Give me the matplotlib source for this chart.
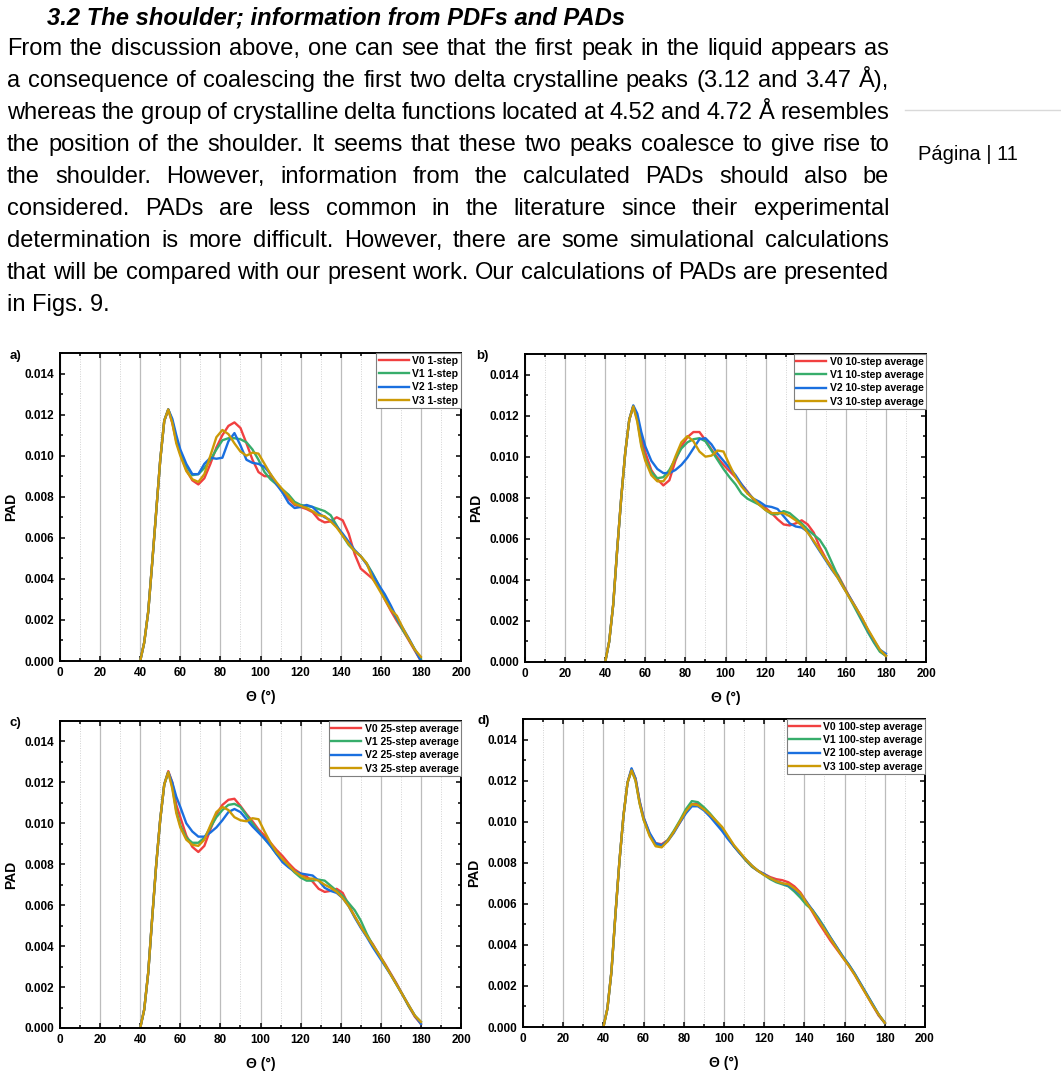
import matplotlib
matplotlib.use('Agg')
from matplotlib import pyplot as plt
from matplotlib.lines import Line2D
from matplotlib.ticker import MultipleLocator, FormatStrFormatter

plt.rcParams['font.family'] = ['Liberation Sans', 'DejaVu Sans']

W, H = 1061, 1079

# angle grid (degrees), same for every curve
THETA = [40, 42, 44, 46, 48, 50, 52, 54, 56, 58] + list(range(60, 181, 3))

# PAD values in units of 1e-3
A_V0 = [0.0, 0.9, 2.4, 4.8, 7.3, 9.8, 11.7, 12.25, 11.6, 10.7,
        10.1, 9.3, 8.8, 8.6, 8.9, 9.6, 10.4, 11.0, 11.45, 11.62,
        11.35, 10.6, 9.8, 9.2, 9.0, 9.0, 8.6, 8.3, 7.9, 7.6,
        7.5, 7.4, 7.25, 6.9, 6.75, 6.8, 7.0, 6.85, 6.2, 5.2,
        4.5, 4.25, 4.0, 3.6, 3.0, 2.45, 1.95, 1.5, 1.0, 0.5,
        0.0]
A_V1 = [0.0, 0.9, 2.4, 4.8, 7.3, 9.8, 11.7, 12.25, 11.7, 10.8,
        10.2, 9.5, 9.05, 9.1, 9.4, 9.8, 10.3, 10.75, 10.85, 10.85,
        10.8, 10.65, 10.3, 9.8, 9.2, 8.85, 8.6, 8.35, 8.1, 7.75,
        7.6, 7.55, 7.5, 7.4, 7.3, 7.1, 6.6, 6.1, 5.65, 5.35,
        5.1, 4.75, 4.25, 3.7, 3.1, 2.6, 2.05, 1.5, 1.05, 0.55,
        0.1]
A_V2 = [0.0, 0.9, 2.4, 4.8, 7.3, 9.8, 11.7, 12.25, 11.8, 11.0,
        10.3, 9.6, 9.1, 9.1, 9.6, 9.9, 9.85, 9.9, 10.7, 11.1,
        10.5, 9.8, 9.65, 9.6, 9.45, 9.1, 8.6, 8.2, 7.7, 7.45,
        7.5, 7.6, 7.5, 7.2, 7.0, 6.85, 6.55, 6.2, 5.8, 5.4,
        5.1, 4.7, 4.2, 3.7, 3.25, 2.7, 2.1, 1.6, 1.1, 0.55,
        0.0]
A_V3 = [0.0, 0.9, 2.4, 4.8, 7.3, 9.8, 11.7, 12.25, 11.6, 10.6,
        10.0, 9.25, 8.85, 8.72, 9.1, 10.0, 10.9, 11.25, 11.05, 10.6,
        10.2, 10.0, 10.15, 10.1, 9.6, 9.1, 8.7, 8.35, 8.0, 7.65,
        7.55, 7.45, 7.3, 7.1, 7.05, 6.8, 6.5, 6.1, 5.7, 5.35,
        5.1, 4.75, 4.0, 3.5, 3.0, 2.5, 2.2, 1.6, 1.05, 0.55,
        0.2]

B_V0 = [0.0, 1.0, 2.8, 5.5, 8.0, 10.2, 11.8, 12.45, 11.9, 10.9,
        10.2, 9.35, 8.9, 8.6, 8.85, 9.8, 10.5, 10.95, 11.2, 11.2,
        10.8, 10.35, 9.95, 9.6, 9.3, 9.0, 8.65, 8.3, 7.9, 7.65,
        7.5, 7.25, 6.95, 6.7, 6.65, 6.75, 6.9, 6.7, 6.3, 5.6,
        5.05, 4.6, 4.25, 3.7, 3.15, 2.65, 2.15, 1.55, 1.0, 0.55,
        0.3]
B_V1 = [0.0, 1.0, 2.8, 5.5, 8.0, 10.2, 11.8, 12.45, 11.8, 10.6,
        9.9, 9.25, 8.95, 9.0, 9.35, 9.9, 10.4, 10.7, 10.85, 10.9,
        10.75, 10.3, 9.85, 9.4, 9.0, 8.65, 8.2, 7.95, 7.8, 7.65,
        7.4, 7.2, 7.2, 7.35, 7.25, 7.0, 6.75, 6.45, 6.2, 5.95,
        5.5, 4.85, 4.2, 3.65, 3.1, 2.55, 2.0, 1.45, 0.95, 0.5,
        0.3]
B_V2 = [0.0, 1.0, 2.8, 5.5, 8.0, 10.2, 11.8, 12.5, 12.1, 11.2,
        10.5, 9.8, 9.4, 9.2, 9.2, 9.35, 9.6, 9.95, 10.4, 10.85,
        10.9, 10.6, 10.15, 9.8, 9.45, 9.1, 8.65, 8.25, 7.95, 7.8,
        7.6, 7.55, 7.45, 7.1, 6.75, 6.6, 6.55, 6.35, 5.85, 5.4,
        4.95, 4.5, 4.1, 3.6, 3.15, 2.65, 2.1, 1.55, 1.05, 0.6,
        0.4]
B_V3 = [0.0, 1.0, 2.8, 5.5, 8.0, 10.2, 11.8, 12.45, 11.7, 10.5,
        9.8, 9.1, 8.8, 8.8, 9.2, 10.0, 10.7, 11.0, 10.75, 10.25,
        10.0, 10.05, 10.3, 10.25, 9.6, 9.0, 8.55, 8.2, 7.95, 7.65,
        7.4, 7.25, 7.25, 7.25, 7.1, 6.9, 6.65, 6.3, 5.9, 5.45,
        5.0, 4.55, 4.1, 3.6, 3.1, 2.65, 2.15, 1.6, 1.1, 0.6,
        0.3]

C_V0 = [0.0, 0.9, 2.7, 5.4, 8.0, 10.2, 11.9, 12.55, 12.0, 10.9,
        10.3, 9.4, 8.85, 8.6, 8.9, 9.7, 10.45, 10.9, 11.15, 11.2,
        10.85, 10.45, 10.1, 9.7, 9.4, 9.05, 8.7, 8.4, 8.05, 7.75,
        7.55, 7.4, 7.15, 6.8, 6.65, 6.7, 6.8, 6.6, 6.0, 5.45,
        4.95, 4.5, 4.1, 3.6, 3.15, 2.65, 2.15, 1.6, 1.05, 0.55,
        0.2]
C_V1 = [0.0, 0.9, 2.7, 5.4, 8.0, 10.2, 11.9, 12.5, 11.8, 10.6,
        9.9, 9.3, 9.05, 9.05, 9.3, 9.8, 10.3, 10.65, 10.9, 10.95,
        10.8, 10.4, 10.0, 9.6, 9.25, 8.9, 8.5, 8.2, 7.9, 7.6,
        7.35, 7.2, 7.2, 7.25, 7.2, 6.95, 6.7, 6.45, 6.1, 5.75,
        5.25, 4.6, 4.05, 3.6, 3.1, 2.6, 2.1, 1.6, 1.05, 0.6,
        0.3]
C_V2 = [0.0, 0.9, 2.7, 5.4, 8.0, 10.2, 11.9, 12.5, 12.0, 11.3,
        10.8, 10.0, 9.6, 9.35, 9.35, 9.55, 9.8, 10.15, 10.55, 10.7,
        10.55, 10.2, 9.85, 9.55, 9.25, 8.9, 8.5, 8.1, 7.85, 7.65,
        7.55, 7.5, 7.45, 7.2, 6.85, 6.7, 6.6, 6.35, 5.95, 5.4,
        4.9, 4.45, 3.95, 3.5, 3.05, 2.6, 2.1, 1.6, 1.1, 0.6,
        0.2]
C_V3 = [0.0, 0.9, 2.7, 5.4, 8.0, 10.2, 11.9, 12.5, 11.7, 10.5,
        9.8, 9.2, 8.95, 8.9, 9.2, 9.9, 10.55, 10.8, 10.65, 10.3,
        10.15, 10.1, 10.25, 10.2, 9.6, 9.05, 8.6, 8.25, 7.95, 7.65,
        7.45, 7.3, 7.3, 7.2, 7.0, 6.85, 6.65, 6.35, 5.95, 5.45,
        4.95, 4.5, 4.05, 3.6, 3.1, 2.6, 2.1, 1.6, 1.1, 0.6,
        0.3]

D_V0 = [0.0, 0.9, 2.7, 5.5, 8.1, 10.3, 11.9, 12.55, 12.1, 11.0,
        10.2, 9.4, 8.95, 8.9, 9.1, 9.5, 9.95, 10.45, 10.85, 10.85,
        10.6, 10.3, 9.95, 9.6, 9.2, 8.8, 8.45, 8.1, 7.8, 7.6,
        7.45, 7.3, 7.2, 7.15, 7.05, 6.85, 6.55, 6.1, 5.6, 5.1,
        4.65, 4.2, 3.8, 3.4, 3.0, 2.55, 2.05, 1.55, 1.05, 0.55,
        0.2]
D_V1 = [0.0, 0.9, 2.7, 5.5, 8.1, 10.3, 11.9, 12.5, 12.0, 10.9,
        10.1, 9.35, 8.85, 8.8, 9.1, 9.55, 10.05, 10.6, 11.0, 10.95,
        10.7, 10.4, 10.05, 9.7, 9.25, 8.8, 8.45, 8.1, 7.8, 7.6,
        7.4, 7.2, 7.05, 6.95, 6.85, 6.6, 6.3, 5.95, 5.7, 5.3,
        4.85, 4.35, 3.9, 3.45, 3.05, 2.6, 2.1, 1.6, 1.1, 0.6,
        0.2]
D_V2 = [0.0, 0.9, 2.7, 5.5, 8.1, 10.3, 11.9, 12.6, 12.1, 11.0,
        10.2, 9.45, 8.95, 8.85, 9.05, 9.45, 9.95, 10.4, 10.75, 10.75,
        10.55, 10.25, 9.9, 9.55, 9.15, 8.8, 8.45, 8.15, 7.85, 7.6,
        7.45, 7.25, 7.1, 7.0, 6.9, 6.7, 6.45, 6.1, 5.7, 5.25,
        4.8, 4.35, 3.9, 3.45, 3.05, 2.6, 2.1, 1.6, 1.1, 0.6,
        0.2]
D_V3 = [0.0, 0.9, 2.7, 5.5, 8.1, 10.3, 11.9, 12.5, 12.0, 10.9,
        10.1, 9.3, 8.8, 8.75, 9.05, 9.5, 10.0, 10.5, 10.85, 10.8,
        10.6, 10.35, 10.05, 9.75, 9.3, 8.85, 8.5, 8.15, 7.85, 7.6,
        7.4, 7.25, 7.1, 7.0, 6.95, 6.75, 6.5, 6.05, 5.65, 5.2,
        4.75, 4.3, 3.85, 3.4, 3.0, 2.55, 2.05, 1.55, 1.05, 0.6,
        0.2]

SCALE = 1e-3
VERSIONS = ['V0', 'V1', 'V2', 'V3']
COLORS = ['#f14040', '#37ad6b', '#1a6fdf', '#cc9a06']
STEPS = ['1-step', '10-step average', '25-step average', '100-step average']
LETTERS = ['a)', 'b)', 'c)', 'd)']

HEADING = '3.2 The shoulder; information from PDFs and PADs'
BODY = [
    'From the discussion above, one can see that the first peak in the liquid appears as',
    'a consequence of coalescing the first two delta crystalline peaks (3.12 and 3.47 \u00c5),',
    'whereas the group of crystalline delta functions located at 4.52 and 4.72 \u00c5 resembles',
    'the position of the shoulder. It seems that these two peaks coalesce to give rise to',
    'the shoulder. However, information from the calculated PADs should also be',
    'considered. PADs are less common in the literature since their experimental',
    'determination is more difficult. However, there are some simulational calculations',
    'that will be compared with our present work. Our calculations of PADs are presented',
    'in Figs. 9.',
]


def fx(x):
    return x / W


def fy(y):
    return 1 - y / H


def text_width(s, **kw):
    t = fig.text(0, 0, s, **kw)
    w = t.get_window_extent(renderer).width
    t.remove()
    return w


fig = plt.figure(figsize=(W / 100, H / 100), dpi=100)
renderer = fig.canvas.get_renderer()

# page text, sized so the first line fills the column like in the page
x_left, x_right = 7, 889
body_size = 10 * (x_right - x_left) / text_width(BODY[0], fontsize=10) * 0.98
head_kw = dict(fontweight='bold', fontstyle='italic')
head_size = 10 * 578 / text_width(HEADING, fontsize=10, **head_kw)

fig.text(fx(47), fy(24), HEADING, fontsize=head_size, va='baseline', **head_kw)

for i, line in enumerate(BODY):
    y = fy(55 + 32 * i)
    if i == len(BODY) - 1:
        fig.text(fx(x_left), y, line, fontsize=body_size, va='baseline')
        continue
    words = line.split(' ')
    texts = [fig.text(0, y, w, fontsize=body_size, va='baseline') for w in words]
    widths = [t.get_window_extent(renderer).width for t in texts]
    gap = max(2, (x_right - x_left - sum(widths)) / (len(words) - 1))
    xpos = x_left
    for t, w in zip(texts, widths):
        t.set_x(fx(xpos))
        xpos += w + gap

fig.add_artist(Line2D([fx(905), fx(1061)], [fy(110), fy(110)],
                      transform=fig.transFigure, color='#d9d9d9', lw=1))
fig.text(fx(918), fy(160), 'P\u00e1gina | 11', fontsize=14.5, va='baseline')

# chart panels: (left, top, right, bottom) in pixels
boxes = [(60, 353, 461, 661), (525, 354, 926, 662),
         (60, 721, 461, 1028), (523, 719, 925, 1027)]
letter_pos = [(10, 356), (476, 356), (10, 723), (477, 721)]
series = [
    [A_V0, A_V1, A_V2, A_V3],
    [B_V0, B_V1, B_V2, B_V3],
    [C_V0, C_V1, C_V2, C_V3],
    [D_V0, D_V1, D_V2, D_V3],
]

for k in range(4):
    l, t, r, b = boxes[k]
    ax = fig.add_axes([fx(l), fy(b), (r - l) / W, (b - t) / H])
    for ver, col, vals in zip(VERSIONS, COLORS, series[k]):
        ax.plot(THETA, [v * SCALE for v in vals], color=col, lw=1.7,
                solid_joinstyle='round', label='{} {}'.format(ver, STEPS[k]))

    ax.set_xlim(0, 200)
    ax.set_ylim(0, 0.015)
    ax.xaxis.set_major_locator(MultipleLocator(20))
    ax.xaxis.set_minor_locator(MultipleLocator(10))
    ax.yaxis.set_major_locator(MultipleLocator(0.002))
    ax.yaxis.set_minor_locator(MultipleLocator(0.001))
    ax.yaxis.set_major_formatter(FormatStrFormatter('%.3f'))
    ax.tick_params(which='both', direction='in', top=True, right=True,
                   width=1.1, labelsize=8.5, pad=4)
    ax.tick_params(which='major', length=3.5)
    ax.tick_params(which='minor', length=2)
    for lbl in ax.get_xticklabels() + ax.get_yticklabels():
        lbl.set_fontweight('bold')
    for sp in ax.spines.values():
        sp.set_linewidth(1.4)

    ax.set_axisbelow(True)
    ax.xaxis.grid(True, which='major', color='#bcbcbc', lw=0.9)
    ax.xaxis.grid(True, which='minor', color='#d2d2d2', lw=0.7,
                  ls=(0, (1, 1.5)))

    ax.set_xlabel('\u0398 (\u00b0)', fontsize=10, fontweight='bold')
    ax.set_ylabel('PAD', fontsize=10, fontweight='bold')
    ax.xaxis.set_label_coords(0.5, -0.095)
    ax.yaxis.set_label_coords(-0.105, 0.5)

    leg = ax.legend(loc='upper right', bbox_to_anchor=(1, 1), borderaxespad=0,
                    prop={'size': 7.5, 'weight': 'bold'}, fancybox=False,
                    edgecolor='#7f7f7f', framealpha=1, handlelength=2.9,
                    handletextpad=0.3, labelspacing=0.32, borderpad=0.25)
    leg.get_frame().set_linewidth(0.8)

    lx, ly = letter_pos[k]
    fig.text(fx(lx), fy(ly), LETTERS[k], fontsize=9.5, fontweight='bold',
             va='center')

fig.savefig('out.png', dpi=100)
